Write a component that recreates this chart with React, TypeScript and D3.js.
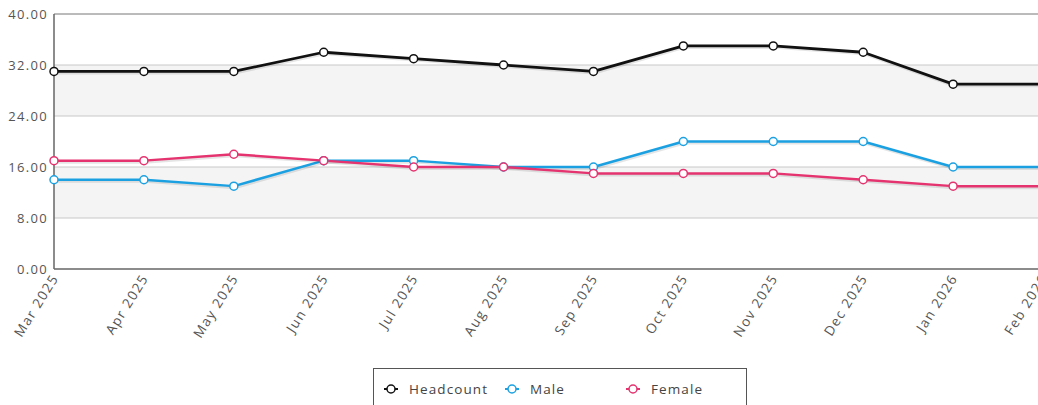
import React, { useEffect, useRef } from "react";
import * as d3 from "d3";

const months = [
  "Mar 2025", "Apr 2025", "May 2025", "Jun 2025", "Jul 2025", "Aug 2025",
  "Sep 2025", "Oct 2025", "Nov 2025", "Dec 2025", "Jan 2026", "Feb 2026",
];
const headcount = [31, 31, 31, 34, 33, 32, 31, 35, 35, 34, 29, 29];
const male = [14, 14, 13, 17, 17, 16, 16, 20, 20, 20, 16, 16];
const female = [17, 17, 18, 17, 16, 16, 15, 15, 15, 14, 13, 13];
const yTicks = [0, 8, 16, 24, 32, 40];

const seriesNames = ["Headcount", "Male", "Female"];
const seriesColors = ["#111111", "#1ba1e2", "#e5336f"];

export default function App() {
  const ref = useRef<SVGSVGElement>(null);

  useEffect(() => {
    const svg = d3.select(ref.current);
    svg.selectAll("*").remove();

    const left = 54;
    const top = 14;
    const bottom = 269;
    const right = 1043;
    const font = "'Open Sans', 'Noto Sans', sans-serif";

    const x = d3.scalePoint().domain(months).range([left, right]);
    const y = d3.scaleLinear().domain([0, 40]).range([bottom, top]);

    // alternating bands
    for (let i = 0; i < yTicks.length - 1; i++) {
      if (i % 2 === 1) {
        svg.append("rect")
          .attr("x", left)
          .attr("y", y(yTicks[i + 1]))
          .attr("width", right - left)
          .attr("height", y(yTicks[i]) - y(yTicks[i + 1]))
          .attr("fill", "#f4f4f4");
      }
    }

    // grid lines
    svg.selectAll("line.grid")
      .data(yTicks.slice(1, -1))
      .enter()
      .append("line")
      .attr("x1", left)
      .attr("x2", right)
      .attr("y1", (d) => y(d))
      .attr("y2", (d) => y(d))
      .attr("stroke", "#c8c8c8")
      .attr("stroke-width", 1);

    // top border
    svg.append("line")
      .attr("x1", left).attr("x2", right)
      .attr("y1", y(40)).attr("y2", y(40))
      .attr("stroke", "#777").attr("stroke-width", 1);

    // axes
    svg.append("line")
      .attr("x1", left).attr("x2", left)
      .attr("y1", top).attr("y2", bottom)
      .attr("stroke", "#666").attr("stroke-width", 1.5);
    svg.append("line")
      .attr("x1", left).attr("x2", right)
      .attr("y1", bottom).attr("y2", bottom)
      .attr("stroke", "#666").attr("stroke-width", 1.5);

    // y labels
    svg.selectAll("text.ylab")
      .data(yTicks)
      .enter()
      .append("text")
      .text((d) => d.toFixed(2))
      .attr("x", left - 6)
      .attr("y", (d) => y(d) + 5)
      .attr("text-anchor", "end")
      .attr("font-family", font)
      .attr("font-size", 13)
      .attr("letter-spacing", 1.3)
      .attr("fill", "#555");

    // x labels
    svg.selectAll("text.xlab")
      .data(months)
      .enter()
      .append("text")
      .text((d) => d)
      .attr("transform", (d) => `translate(${(x(d) as number) + 5},${bottom + 9}) rotate(-58)`)
      .attr("text-anchor", "end")
      .attr("font-family", font)
      .attr("font-size", 13.5)
      .attr("letter-spacing", 1.4)
      .attr("fill", "#555");

    const allSeries = [headcount, male, female];
    const line = d3.line<number>()
      .x((d, i) => x(months[i]) as number)
      .y((d) => y(d));

    allSeries.forEach((data, si) => {
      svg.append("path")
        .datum(data)
        .attr("d", line)
        .attr("fill", "none")
        .attr("stroke", "rgba(0,0,0,0.1)")
        .attr("stroke-width", 3)
        .attr("transform", "translate(1,1.5)");
      svg.append("path")
        .datum(data)
        .attr("d", line)
        .attr("fill", "none")
        .attr("stroke", seriesColors[si])
        .attr("stroke-width", si === 0 ? 2.8 : 2.5)
        .attr("stroke-linejoin", "round");
    });

    allSeries.forEach((data, si) => {
      svg.append("g")
        .selectAll("circle")
        .data(data)
        .enter()
        .append("circle")
        .attr("cx", (d, i) => x(months[i]) as number)
        .attr("cy", (d) => y(d))
        .attr("r", 4)
        .attr("fill", "#fff")
        .attr("stroke", seriesColors[si])
        .attr("stroke-width", 1.5);
    });

    // legend
    svg.append("rect")
      .attr("x", 373.5)
      .attr("y", 368.5)
      .attr("width", 373)
      .attr("height", 50)
      .attr("fill", "#fff")
      .attr("stroke", "#555")
      .attr("stroke-width", 1);

    const legendX = [391, 512, 633];
    seriesNames.forEach((name, i) => {
      svg.append("line")
        .attr("x1", legendX[i] - 7).attr("x2", legendX[i] + 7)
        .attr("y1", 389).attr("y2", 389)
        .attr("stroke", seriesColors[i]).attr("stroke-width", 2);
      svg.append("circle")
        .attr("cx", legendX[i]).attr("cy", 389).attr("r", 4)
        .attr("fill", "#fff").attr("stroke", seriesColors[i]).attr("stroke-width", 1.5);
      svg.append("text")
        .text(name)
        .attr("x", legendX[i] + 18)
        .attr("y", 394)
        .attr("font-family", font)
        .attr("font-size", 13.5)
        .attr("letter-spacing", 1.1)
        .attr("fill", "#444");
    });
  }, []);

  return (
    <svg
      ref={ref}
      width={1038}
      height={405}
      style={{ position: "absolute", left: 0, top: 0, background: "#fff" }}
    />
  );
}
